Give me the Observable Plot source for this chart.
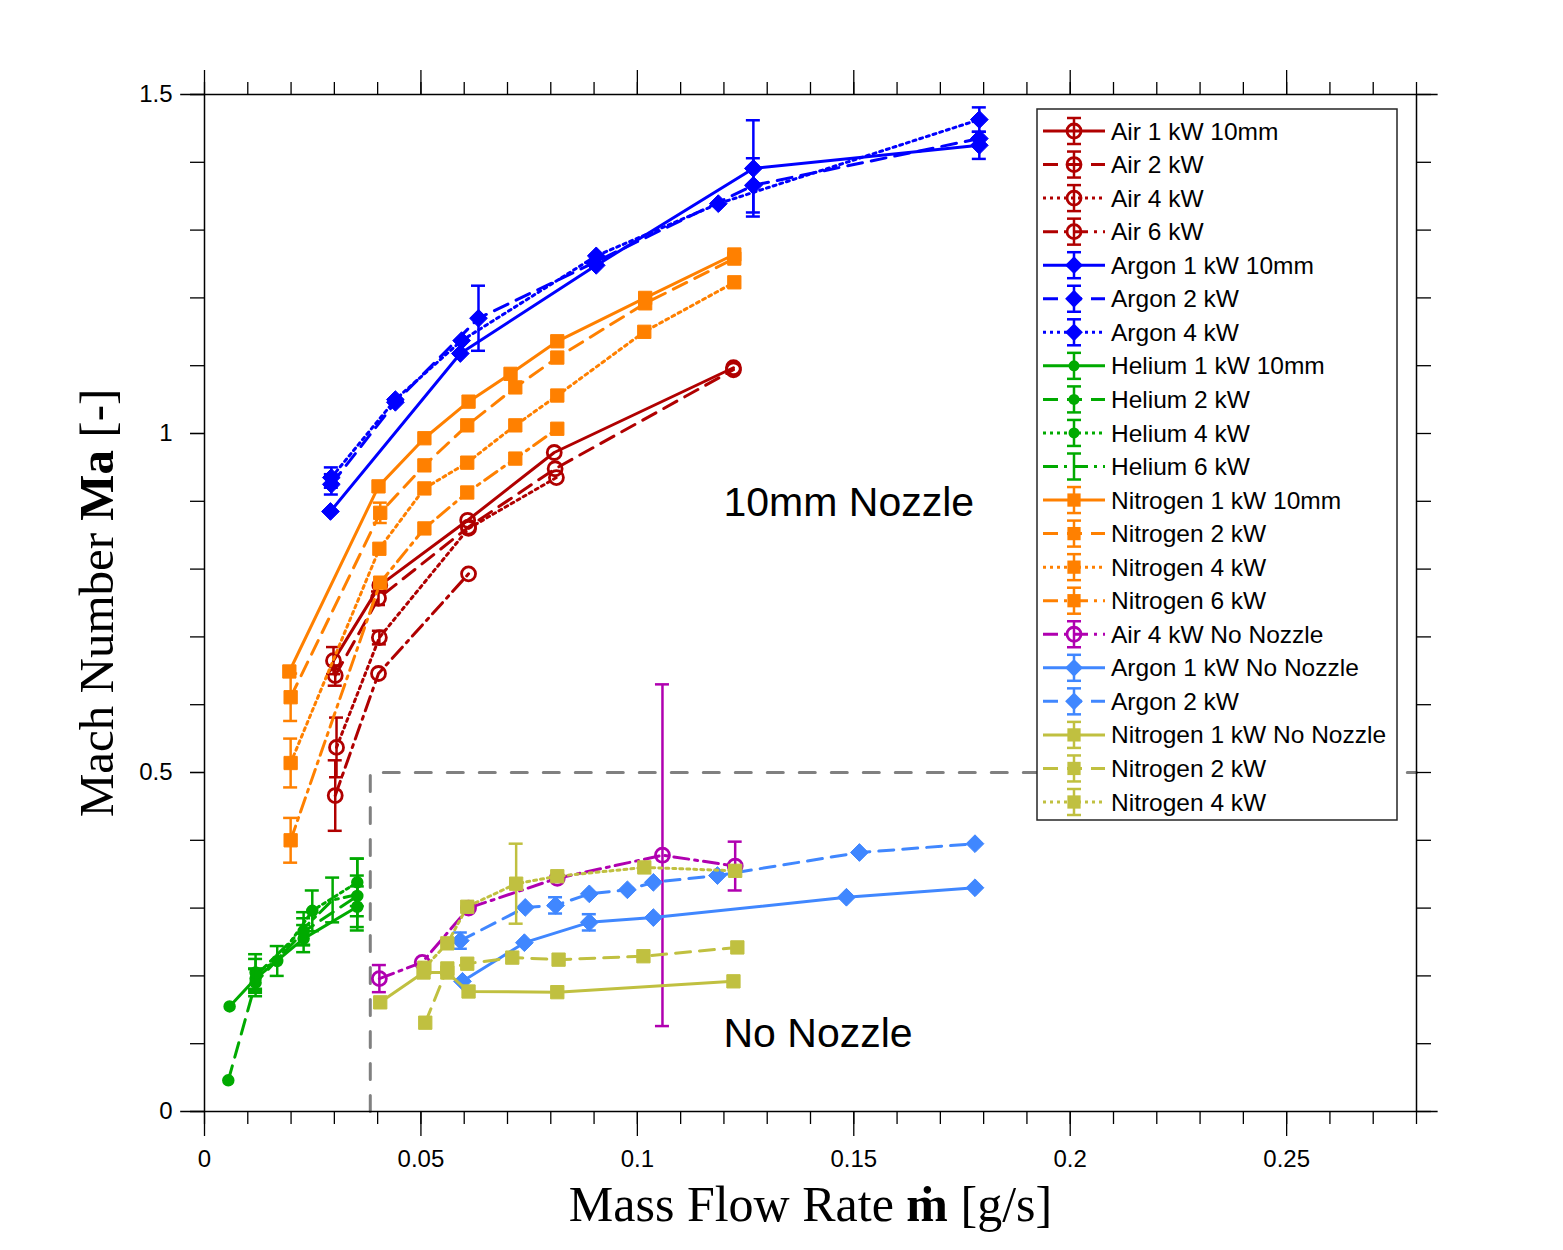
<!DOCTYPE html>
<html><head><meta charset="utf-8">
<script src="https://cdn.jsdelivr.net/npm/d3@7"></script>
<script src="https://cdn.jsdelivr.net/npm/@observablehq/plot@0.6"></script>
<style>body{margin:0;background:#fff} #chart{position:relative;width:1563px;height:1250px}</style>
</head><body><div id="chart"></div>
<script>
// ---- data: [massFlow g/s, Mach, error] ----
const air1kW10mm = [[0.0298,0.665,0.02],[0.0405,0.776,0],[0.0608,0.872,0],[0.0808,0.972,0],[0.1222,1.097,0]];
const air2kW = [[0.0302,0.643,0.015],[0.0402,0.757,0.01],[0.0610,0.862,0],[0.0810,0.948,0],[0.1222,1.094,0]];
const air4kW = [[0.0305,0.537,0.044],[0.0404,0.699,0.01],[0.0610,0.860,0],[0.0813,0.935,0]];
const air6kW = [[0.0302,0.466,0.052],[0.0402,0.646,0],[0.0610,0.793,0]];
const argon1kW10mm = [[0.0291,0.885,0],[0.0591,1.118,0],[0.0905,1.248,0],[0.1268,1.391,0.071],[0.1790,1.425,0.02]];
const argon2kW = [[0.0293,0.925,0.015],[0.0441,1.046,0],[0.0633,1.170,0.048],[0.0900,1.252,0],[0.1268,1.366,0.04],[0.1790,1.435,0]];
const argon4kW = [[0.0293,0.935,0.015],[0.0441,1.050,0],[0.0594,1.137,0],[0.0905,1.262,0],[0.1187,1.339,0],[0.1790,1.463,0.018]];
const helium1kW10mm = [[0.0058,0.155,0],[0.0118,0.196,0.015],[0.0229,0.255,0.02],[0.0353,0.302,0.03]];
const helium2kW = [[0.0055,0.046,0],[0.0118,0.190,0.02],[0.0229,0.265,0.02],[0.0353,0.318,0.03]];
const helium4kW = [[0.0118,0.205,0.027],[0.0168,0.222,0.022],[0.0249,0.296,0.03],[0.0353,0.338,0.035]];
const helium6kW = [[0.0118,0.200,0.025],[0.0229,0.270,0.024],[0.0296,0.312,0.033],[0.0353,0.320,0.053]];
const nitrogen1kW10mm = [[0.0196,0.649,0],[0.0402,0.922,0],[0.0508,0.993,0],[0.0610,1.047,0],[0.0707,1.088,0],[0.0815,1.136,0],[0.1018,1.200,0],[0.1224,1.264,0]];
const nitrogen2kW = [[0.0199,0.611,0.035],[0.0406,0.883,0.015],[0.0508,0.953,0],[0.0607,1.012,0],[0.0718,1.068,0],[0.0815,1.112,0],[0.1018,1.192,0],[0.1224,1.258,0]];
const nitrogen4kW = [[0.0199,0.514,0.036],[0.0404,0.830,0],[0.0508,0.919,0],[0.0607,0.957,0],[0.0718,1.012,0],[0.0815,1.056,0],[0.1016,1.150,0],[0.1224,1.223,0]];
const nitrogen6kW = [[0.0199,0.400,0.033],[0.0406,0.780,0],[0.0508,0.860,0],[0.0607,0.913,0],[0.0718,0.963,0],[0.0815,1.007,0]];
const air4kWNoNozzle = [[0.0404,0.196,0.02],[0.0503,0.220,0],[0.0610,0.300,0],[0.0815,0.344,0],[0.1058,0.378,0.252],[0.1226,0.362,0.036]];
const argon1kWNoNozzle = [[0.0596,0.192,0],[0.0739,0.249,0],[0.0889,0.279,0.012],[0.1037,0.286,0],[0.1483,0.316,0],[0.1780,0.330,0]];
const argon2kWNoNozzle = [[0.0591,0.252,0.012],[0.0741,0.301,0],[0.0811,0.304,0.012],[0.0889,0.321,0],[0.0977,0.327,0],[0.1037,0.338,0],[0.1185,0.348,0],[0.1513,0.382,0],[0.1780,0.395,0]];
const nitrogen1kWNoNozzle = [[0.0406,0.161,0],[0.0506,0.205,0],[0.0561,0.205,0],[0.0610,0.177,0],[0.0815,0.176,0],[0.1222,0.192,0]];
const nitrogen2kWNoNozzle = [[0.0510,0.131,0],[0.0561,0.211,0],[0.0607,0.218,0],[0.0711,0.227,0],[0.0818,0.224,0],[0.1014,0.229,0],[0.1231,0.242,0]];
const nitrogen4kWNoNozzle = [[0.0508,0.212,0],[0.0561,0.248,0],[0.0607,0.302,0],[0.0720,0.336,0.059],[0.0815,0.347,0],[0.1016,0.360,0],[0.1226,0.355,0]];

const noNozzleBoundary = [[0.0383,0],[0.0383,0.5],[0.28,0.5]];
const annotations = [{label:"10mm Nozzle", x:0.1199, y:0.897},{label:"No Nozzle", x:0.1199, y:0.115}];

const xMinorTicks = d3.range(0, 0.28001, 0.01);
const xMajorTicks = [0, 0.05, 0.1, 0.15, 0.2, 0.25];
const xTickLabels = ["0","0.05","0.1","0.15","0.2","0.25"];
const yMinorTicks = d3.range(0, 1.5001, 0.1);
const yMajorTicks = [0, 0.5, 1, 1.5];
const yTickLabels = ["0","0.5","1","1.5"];
const xDomain = [0, 0.28];
const yDomain = [0, 1.5];
const frameX = [0, 0.28];
const frameY = [0, 1.5];
const axisLineExtent = [-0.0055, 0.285];
const xLabel = "Mass Flow Rate ṁ [g/s]";
const yLabel = "Mach Number Ma [-]";

// ---- styles ----
const RED="#b00000", BLUE="#0000ff", GREEN="#00aa00", ORANGE="#ff8000", MAG="#b000b0", LBLUE="#4087ff", OLIVE="#c0c040";
const SOLID=null, DASH="15,9", DOT="3,4", DASHDOT="15,6,3,6";
const series = [
  {name:"Air 1 kW 10mm", data:air1kW10mm, color:RED, dash:SOLID, marker:"circle"},
  {name:"Air 2 kW", data:air2kW, color:RED, dash:DASH, marker:"circle"},
  {name:"Air 4 kW", data:air4kW, color:RED, dash:DOT, marker:"circle"},
  {name:"Air 6 kW", data:air6kW, color:RED, dash:DASHDOT, marker:"circle"},
  {name:"Argon 1 kW 10mm", data:argon1kW10mm, color:BLUE, dash:SOLID, marker:"diamond"},
  {name:"Argon 2 kW", data:argon2kW, color:BLUE, dash:DASH, marker:"diamond"},
  {name:"Argon 4 kW", data:argon4kW, color:BLUE, dash:DOT, marker:"diamond"},
  {name:"Helium 1 kW 10mm", data:helium1kW10mm, color:GREEN, dash:SOLID, marker:"dot"},
  {name:"Helium 2 kW", data:helium2kW, color:GREEN, dash:DASH, marker:"dot"},
  {name:"Helium 4 kW", data:helium4kW, color:GREEN, dash:DOT, marker:"dot"},
  {name:"Helium 6 kW", data:helium6kW, color:GREEN, dash:DASHDOT, marker:"none"},
  {name:"Nitrogen 1 kW 10mm", data:nitrogen1kW10mm, color:ORANGE, dash:SOLID, marker:"square"},
  {name:"Nitrogen 2 kW", data:nitrogen2kW, color:ORANGE, dash:DASH, marker:"square"},
  {name:"Nitrogen 4 kW", data:nitrogen4kW, color:ORANGE, dash:DOT, marker:"square"},
  {name:"Nitrogen 6 kW", data:nitrogen6kW, color:ORANGE, dash:DASHDOT, marker:"square"},
  {name:"Air 4 kW No Nozzle", data:air4kWNoNozzle, color:MAG, dash:DASHDOT, marker:"circle"},
  {name:"Argon 1 kW No Nozzle", data:argon1kWNoNozzle, color:LBLUE, dash:SOLID, marker:"diamond"},
  {name:"Argon 2 kW", data:argon2kWNoNozzle, color:LBLUE, dash:DASH, marker:"diamond"},
  {name:"Nitrogen 1 kW No Nozzle", data:nitrogen1kWNoNozzle, color:OLIVE, dash:SOLID, marker:"square"},
  {name:"Nitrogen 2 kW", data:nitrogen2kWNoNozzle, color:OLIVE, dash:DASH, marker:"square"},
  {name:"Nitrogen 4 kW", data:nitrogen4kWNoNozzle, color:OLIVE, dash:DOT, marker:"square"}
];

const SANS = "'Liberation Sans', Arial, Helvetica, sans-serif";
const SERIF = "'Liberation Serif', 'DejaVu Serif', 'Times New Roman', serif";
const LW = 3;
const TICKFONT = 24;

function markerMark(s){
  const base = {x:d=>d[0], y:d=>d[1]};
  if (s.marker==="circle") return Plot.dot(s.data, {...base, r:7, stroke:s.color, strokeWidth:2.8, fill:"none"});
  if (s.marker==="diamond") return Plot.dot(s.data, {...base, symbol:"diamond2", r:8, fill:s.color, stroke:s.color, strokeWidth:1});
  if (s.marker==="square") return Plot.dot(s.data, {...base, symbol:"square", r:7.5, fill:s.color, stroke:s.color, strokeWidth:1});
  if (s.marker==="dot") return Plot.dot(s.data, {...base, r:5.5, fill:s.color, stroke:s.color});
  return null;
}

const marks = [];
marks.push(Plot.line(noNozzleBoundary, {x:d=>d[0], y:d=>d[1], stroke:"#808080", strokeWidth:3, strokeDasharray:"16,16"}));
for (const s of series) {
  const eb = s.data.filter(d=>d[2]>0);
  marks.push(Plot.line(s.data, {x:d=>d[0], y:d=>d[1], stroke:s.color, strokeWidth:LW, strokeDasharray:s.dash||undefined}));
  marks.push(Plot.ruleX(eb, {x:d=>d[0], y1:d=>d[1]-d[2], y2:d=>d[1]+d[2], stroke:s.color, strokeWidth:2.5}));
  marks.push(Plot.ruleY(eb, {y:d=>d[1]-d[2], x1:d=>d[0], x2:d=>d[0], insetLeft:-7, insetRight:-7, stroke:s.color, strokeWidth:2.5}));
  marks.push(Plot.ruleY(eb, {y:d=>d[1]+d[2], x1:d=>d[0], x2:d=>d[0], insetLeft:-7, insetRight:-7, stroke:s.color, strokeWidth:2.5}));
  const m = markerMark(s); if (m) marks.push(m);
}
marks.push(Plot.text(annotations, {x:"x", y:"y", text:"label", textAnchor:"start", fontSize:41, fontFamily:SANS, fill:"black"}));

// frame
marks.push(Plot.ruleX(frameX, {stroke:"black", strokeWidth:1.5}));
marks.push(Plot.ruleY(frameY, {x1:axisLineExtent[0], x2:axisLineExtent[1], stroke:"black", strokeWidth:1.5}));

// axes
marks.push(Plot.axisX({anchor:"bottom", ticks:xMinorTicks, tickSize:13, tickFormat:()=>"", label:null, strokeWidth:1.3}));
marks.push(Plot.axisX({anchor:"bottom", ticks:xMajorTicks, tickSize:25, tickPadding:13, tickFormat:(d,i)=>xTickLabels[i], label:null, strokeWidth:1.3, fontSize:TICKFONT, fontFamily:SANS}));
marks.push(Plot.axisX({anchor:"top", ticks:xMinorTicks, tickSize:13, tickFormat:()=>"", label:null, strokeWidth:1.3}));
marks.push(Plot.axisX({anchor:"top", ticks:xMajorTicks, tickSize:25, tickFormat:()=>"", label:null, strokeWidth:1.3}));
marks.push(Plot.axisY({anchor:"left", ticks:yMinorTicks, tickSize:14, tickFormat:()=>"", label:null, strokeWidth:1.3}));
marks.push(Plot.axisY({anchor:"left", ticks:yMajorTicks, tickSize:14, tickPadding:18, tickFormat:(d,i)=>yTickLabels[i], label:null, strokeWidth:1.3, fontSize:TICKFONT, fontFamily:SANS}));
marks.push(Plot.axisY({anchor:"right", ticks:yMinorTicks, tickSize:14, tickFormat:()=>"", label:null, strokeWidth:1.3}));

// axis titles
marks.push(Plot.text([xLabel], {frameAnchor:"bottom", dy:93, textAnchor:"middle", lineAnchor:"middle", fontSize:50, fontFamily:SERIF, fill:"black"}));
marks.push(Plot.text([yLabel], {frameAnchor:"left", dx:-107, rotate:-90, textAnchor:"middle", lineAnchor:"middle", fontSize:49, fontFamily:SERIF, fill:"black"}));

const svg = Plot.plot({
  width:1563, height:1250,
  marginLeft:204, marginRight:147, marginTop:94, marginBottom:139,
  x:{domain:xDomain}, y:{domain:yDomain},
  style:{fontFamily:SANS, fontSize:"19px", color:"black", background:"white"},
  marks
});

const sel = d3.select(svg);
// styled axis titles (bold symbols)
sel.selectAll("text").filter(function(){return this.textContent===xLabel;})
  .html('Mass Flow Rate <tspan font-weight="bold">ṁ</tspan> [g/s]');
sel.selectAll("text").filter(function(){return this.textContent===yLabel;})
  .html('Mach Number <tspan font-weight="bold">Ma</tspan> [-]');

// legend
const lg = sel.append("g").attr("font-family", SANS).attr("font-size", 24.5).attr("text-anchor","start");
lg.append("rect").attr("x",1037).attr("y",109).attr("width",360).attr("height",711)
  .attr("fill","white").attr("stroke","#262626").attr("stroke-width",1.5);
series.forEach((s,i)=>{
  const y = 131 + i*33.55;
  const g = lg.append("g");
  const ln = g.append("line").attr("x1",1043).attr("x2",1105).attr("y1",y).attr("y2",y)
    .attr("stroke",s.color).attr("stroke-width",LW);
  if (s.dash) ln.attr("stroke-dasharray", s.dash);
  g.append("line").attr("x1",1074).attr("x2",1074).attr("y1",y-13).attr("y2",y+13).attr("stroke",s.color).attr("stroke-width",2.5);
  g.append("line").attr("x1",1067).attr("x2",1081).attr("y1",y-13).attr("y2",y-13).attr("stroke",s.color).attr("stroke-width",2.5);
  g.append("line").attr("x1",1067).attr("x2",1081).attr("y1",y+13).attr("y2",y+13).attr("stroke",s.color).attr("stroke-width",2.5);
  if (s.marker==="circle") g.append("circle").attr("cx",1074).attr("cy",y).attr("r",7).attr("fill","none").attr("stroke",s.color).attr("stroke-width",2.8);
  else if (s.marker==="dot") g.append("circle").attr("cx",1074).attr("cy",y).attr("r",5.5).attr("fill",s.color);
  else if (s.marker==="diamond") g.append("path").attr("transform",`translate(1074,${y})`).attr("d", d3.symbol(d3.symbolDiamond2, Math.PI*64)()).attr("fill",s.color);
  else if (s.marker==="square") g.append("path").attr("transform",`translate(1074,${y})`).attr("d", d3.symbol(d3.symbolSquare, Math.PI*56)()).attr("fill",s.color);
  g.append("text").attr("x",1111).attr("y",y).attr("dy","0.35em").attr("fill","black").attr("text-anchor","start").text(s.name);
});

document.getElementById("chart").appendChild(svg);
</script></body></html>
